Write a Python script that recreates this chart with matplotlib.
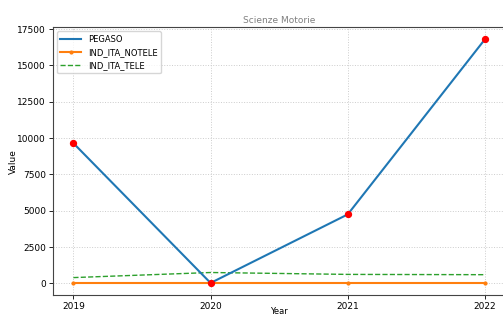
import matplotlib
matplotlib.use("Agg")
import matplotlib.pyplot as plt

years = [2019, 2020, 2021, 2022]
pegaso = [9650, 30, 4750, 16800]
ind_ita_notele = [30, 30, 30, 30]
ind_ita_tele = [400, 750, 620, 600]

fig = plt.figure(figsize=(5.03, 3.15), dpi=100)
ax = fig.add_axes([0.105, 0.063, 0.9, 0.851])

ax.plot(years, pegaso, color="#1f77b4", lw=1.5, label="PEGASO", zorder=3)
ax.scatter(years, pegaso, color="red", s=18, zorder=4)
ax.plot(years, ind_ita_notele, color="#ff7f0e", lw=1.5, marker=".", ms=4, label="IND_ITA_NOTELE")
ax.plot(years, ind_ita_tele, color="#2ca02c", lw=1, ls="--", label="IND_ITA_TELE")

ax.set_xticks(years)
ax.set_yticks([0, 2500, 5000, 7500, 10000, 12500, 15000, 17500])
ax.tick_params(labelsize=6.5, length=3, width=0.6, pad=2)
ax.grid(True, color="#cccccc", lw=0.7, ls=":")
ax.set_title("Scienze Motorie", fontsize=6.5, color="gray", pad=3)
ax.set_xlabel("Year", fontsize=6)
ax.xaxis.set_label_coords(0.5, -0.045)
ax.set_ylabel("Value", fontsize=6.5)
ax.yaxis.set_label_coords(-0.077, 0.5)
for s in ax.spines.values():
    s.set_color("#444444")
    s.set_linewidth(0.8)
ax.legend(loc="upper left", fontsize=6, frameon=True, borderpad=0.4, handlelength=2.5)

fig.savefig("out.png", dpi=100)
